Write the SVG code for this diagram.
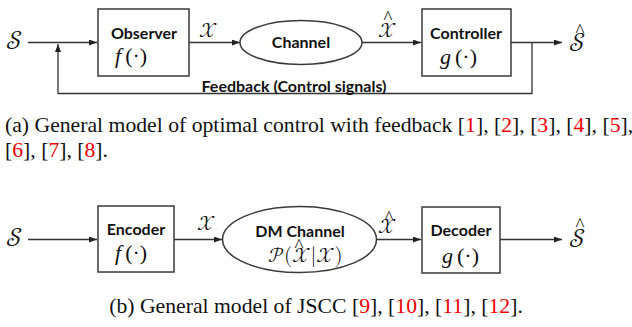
<svg xmlns="http://www.w3.org/2000/svg" width="632" height="327" viewBox="0 0 632 327">
<defs>
<marker id="arr" viewBox="0 0 8 6" refX="8" refY="3" markerWidth="8" markerHeight="6" markerUnits="userSpaceOnUse" orient="auto">
<path d="M0,0 L8,3 L0,6 Z" fill="#222"/>
</marker>
</defs>
<style>
.box{fill:#fff;stroke:#3a3a3a;stroke-width:1.5}
.ln{fill:none;stroke:#333;stroke-width:1.3}
.lbl{font-family:Lato,"Liberation Sans",sans-serif;font-weight:bold;font-size:16px;fill:#111;text-anchor:middle}
.fn{font-family:"Liberation Serif",serif;font-size:22px;fill:#111}
.mth{font-family:"Latin Modern Math","STIX Two Math","DejaVu Serif",serif;font-size:21px;fill:#111}
.big{font-size:26px}
.hat{font-family:"Liberation Serif",serif;font-size:19px;fill:#111;text-anchor:middle}
.cap{font-family:"Liberation Serif",serif;font-size:21.7px;fill:#111}
.ref{fill:#e00}
</style>
<rect width="632" height="327" fill="#fff"/>
<g id="connectors">
<path class="ln" d="M28,42.5 H97" marker-end="url(#arr)"/>
<path class="ln" d="M189,42.5 H240" marker-end="url(#arr)"/>
<path class="ln" d="M362,42.5 H421" marker-end="url(#arr)"/>
<path class="ln" d="M511,42.5 H562" marker-end="url(#arr)"/>
<path class="ln" d="M532,42.5 V93.5 H58 V44" marker-end="url(#arr)"/>
<path class="ln" d="M28,239.5 H97" marker-end="url(#arr)"/>
<path class="ln" d="M174,239.5 H222" marker-end="url(#arr)"/>
<path class="ln" d="M377,239.5 H421" marker-end="url(#arr)"/>
<path class="ln" d="M500,239.5 H562" marker-end="url(#arr)"/>
</g>
<g id="observer">
<rect class="box" x="98" y="9" width="91" height="67"/>
<text class="lbl" x="144" y="39">Observer</text>
<text class="fn" x="115" y="63"><tspan font-style="italic">f</tspan><tspan dx="4">(·)</tspan></text>
</g>
<g id="channel">
<ellipse class="box" cx="301" cy="42.5" rx="61" ry="22"/>
<text class="lbl" x="301" y="48">Channel</text>
</g>
<g id="controller">
<rect class="box" x="422" y="9" width="89" height="67"/>
<text class="lbl" x="466" y="39">Controller</text>
<text class="fn" x="440" y="64"><tspan font-style="italic">g</tspan><tspan dx="4">(·)</tspan></text>
</g>
<g id="encoder">
<rect class="box" x="98" y="206" width="76" height="66"/>
<text class="lbl" x="136" y="235">Encoder</text>
<text class="fn" x="115" y="260"><tspan font-style="italic">f</tspan><tspan dx="4">(·)</tspan></text>
</g>
<g id="dmchannel">
<ellipse class="box" cx="299.5" cy="239.5" rx="77" ry="33"/>
<text class="lbl" x="300" y="237">DM Channel</text>
<text class="mth" x="268" y="262" font-size="18">𝒫(𝒳|𝒳)</text>
<text class="hat" x="299" y="252" font-size="14">^</text>
</g>
<g id="decoder">
<rect class="box" x="422" y="207" width="78" height="66"/>
<text class="lbl" x="461" y="236">Decoder</text>
<text class="fn" x="442" y="263"><tspan font-style="italic">g</tspan><tspan dx="4">(·)</tspan></text>
</g>
<g id="labels">
<text class="mth big" x="6" y="49">𝒮</text>
<text class="mth" x="199" y="37">𝒳</text>
<text class="mth" x="378" y="37">𝒳</text>
<text class="hat" x="388" y="24">^</text>
<text class="mth big" x="569" y="51">𝒮</text>
<text class="hat" x="580" y="37">^</text>
<text class="lbl" x="294" y="92" font-size="14.8">Feedback (Control signals)</text>
<text class="mth big" x="6" y="246">𝒮</text>
<text class="mth" x="197" y="230">𝒳</text>
<text class="mth" x="378" y="233">𝒳</text>
<text class="hat" x="389" y="224">^</text>
<text class="mth big" x="569" y="247">𝒮</text>
<text class="hat" x="580" y="231">^</text>
</g>
<g id="captions">
<text class="cap" x="5" y="132">(a) General model of optimal control with feedback [<tspan class="ref">1</tspan>], [<tspan class="ref">2</tspan>], [<tspan class="ref">3</tspan>], [<tspan class="ref">4</tspan>], [<tspan class="ref">5</tspan>],</text>
<text class="cap" x="5" y="157">[<tspan class="ref">6</tspan>], [<tspan class="ref">7</tspan>], [<tspan class="ref">8</tspan>].</text>
<text class="cap" x="316" y="313" text-anchor="middle">(b) General model of JSCC [<tspan class="ref">9</tspan>], [<tspan class="ref">10</tspan>], [<tspan class="ref">11</tspan>], [<tspan class="ref">12</tspan>].</text>
</g>
</svg>
